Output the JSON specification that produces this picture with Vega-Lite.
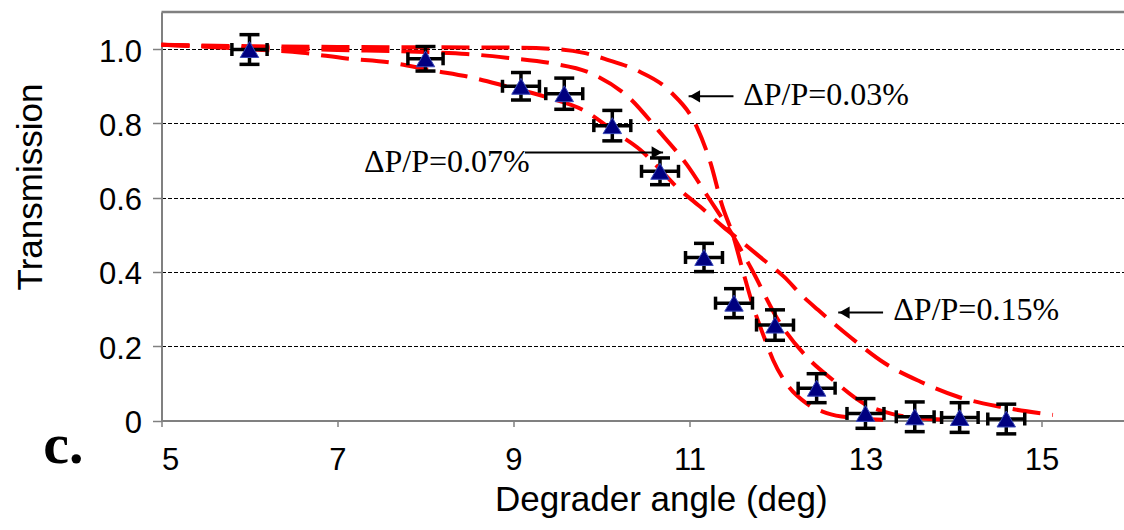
{
  "$schema": "https://vega.github.io/schema/vega-lite/v6.json",
  "width": 964,
  "height": 408.5,
  "autosize": {"type": "none"},
  "padding": {"left": 161.5, "top": 12, "right": 0, "bottom": 109.5},
  "background": "white",
  "config": {
    "view": {"stroke": null},
    "axis": {
      "domainColor": "#808080",
      "domainWidth": 2,
      "tickColor": "#808080",
      "tickWidth": 1.5,
      "labelFont": "Liberation Sans",
      "labelFontSize": 31,
      "labelColor": "#000000",
      "titleFont": "Liberation Sans",
      "titleFontSize": 35,
      "titleFontWeight": "normal",
      "titleColor": "#000000"
    }
  },
  "datasets": {
    "curves": [
      {"c": "0.03", "x": 5.0, "T": 1.012},
      {"c": "0.03", "x": 6.0, "T": 1.008},
      {"c": "0.03", "x": 7.0, "T": 1.006},
      {"c": "0.03", "x": 8.0, "T": 1.005},
      {"c": "0.03", "x": 9.0, "T": 1.004},
      {"c": "0.03", "x": 9.5, "T": 1.0},
      {"c": "0.03", "x": 9.8, "T": 0.99},
      {"c": "0.03", "x": 10.06, "T": 0.972},
      {"c": "0.03", "x": 10.4, "T": 0.943},
      {"c": "0.03", "x": 10.78, "T": 0.886},
      {"c": "0.03", "x": 11.08, "T": 0.792},
      {"c": "0.03", "x": 11.24, "T": 0.693},
      {"c": "0.03", "x": 11.37, "T": 0.58},
      {"c": "0.03", "x": 11.5, "T": 0.495},
      {"c": "0.03", "x": 11.61, "T": 0.4},
      {"c": "0.03", "x": 11.74, "T": 0.295},
      {"c": "0.03", "x": 11.86, "T": 0.217},
      {"c": "0.03", "x": 11.95, "T": 0.163},
      {"c": "0.03", "x": 12.1, "T": 0.1},
      {"c": "0.03", "x": 12.33, "T": 0.046},
      {"c": "0.03", "x": 12.56, "T": 0.02},
      {"c": "0.03", "x": 12.9, "T": 0.006},
      {"c": "0.03", "x": 13.2, "T": 0.002},
      {"c": "0.07", "x": 5.0, "T": 1.012},
      {"c": "0.07", "x": 6.0, "T": 1.004},
      {"c": "0.07", "x": 7.0, "T": 0.998},
      {"c": "0.07", "x": 8.0, "T": 0.992},
      {"c": "0.07", "x": 8.47, "T": 0.987},
      {"c": "0.07", "x": 8.92, "T": 0.977},
      {"c": "0.07", "x": 9.43, "T": 0.962},
      {"c": "0.07", "x": 9.89, "T": 0.934},
      {"c": "0.07", "x": 10.32, "T": 0.868},
      {"c": "0.07", "x": 10.65, "T": 0.78},
      {"c": "0.07", "x": 10.97, "T": 0.689},
      {"c": "0.07", "x": 11.23, "T": 0.595},
      {"c": "0.07", "x": 11.45, "T": 0.515},
      {"c": "0.07", "x": 11.7, "T": 0.41},
      {"c": "0.07", "x": 12.03, "T": 0.262},
      {"c": "0.07", "x": 12.33, "T": 0.172},
      {"c": "0.07", "x": 12.63, "T": 0.109},
      {"c": "0.07", "x": 12.98, "T": 0.046},
      {"c": "0.07", "x": 13.3, "T": 0.018},
      {"c": "0.07", "x": 13.6, "T": 0.007},
      {"c": "0.07", "x": 14.0, "T": 0.002},
      {"c": "0.15", "x": 5.0, "T": 1.012},
      {"c": "0.15", "x": 6.0, "T": 1.0},
      {"c": "0.15", "x": 6.6, "T": 0.99},
      {"c": "0.15", "x": 7.1, "T": 0.975},
      {"c": "0.15", "x": 7.6, "T": 0.964},
      {"c": "0.15", "x": 8.07, "T": 0.943},
      {"c": "0.15", "x": 8.5, "T": 0.925},
      {"c": "0.15", "x": 8.92, "T": 0.9},
      {"c": "0.15", "x": 9.37, "T": 0.871},
      {"c": "0.15", "x": 9.8, "T": 0.835},
      {"c": "0.15", "x": 10.17, "T": 0.774},
      {"c": "0.15", "x": 10.44, "T": 0.729},
      {"c": "0.15", "x": 10.67, "T": 0.675},
      {"c": "0.15", "x": 10.85, "T": 0.63},
      {"c": "0.15", "x": 11.12, "T": 0.576},
      {"c": "0.15", "x": 11.38, "T": 0.522},
      {"c": "0.15", "x": 11.61, "T": 0.478},
      {"c": "0.15", "x": 11.84, "T": 0.433},
      {"c": "0.15", "x": 12.07, "T": 0.388},
      {"c": "0.15", "x": 12.29, "T": 0.334},
      {"c": "0.15", "x": 12.46, "T": 0.298},
      {"c": "0.15", "x": 12.84, "T": 0.222},
      {"c": "0.15", "x": 13.22, "T": 0.154},
      {"c": "0.15", "x": 13.62, "T": 0.105},
      {"c": "0.15", "x": 14.05, "T": 0.064},
      {"c": "0.15", "x": 14.53, "T": 0.037},
      {"c": "0.15", "x": 15.13, "T": 0.015}
    ],
    "points": [
      {"x": 6.0, "T": 0.999, "xlo": 5.8, "xhi": 6.2, "ylo": 0.959, "yhi": 1.039},
      {"x": 8.0, "T": 0.974, "xlo": 7.8, "xhi": 8.2, "ylo": 0.941, "yhi": 1.007},
      {"x": 9.085, "T": 0.9, "xlo": 8.875, "xhi": 9.295, "ylo": 0.863, "yhi": 0.937},
      {"x": 9.577, "T": 0.88, "xlo": 9.367, "xhi": 9.787, "ylo": 0.838, "yhi": 0.922},
      {"x": 10.123, "T": 0.794, "xlo": 9.913, "xhi": 10.333, "ylo": 0.753, "yhi": 0.835},
      {"x": 10.665, "T": 0.671, "xlo": 10.455, "xhi": 10.875, "ylo": 0.635, "yhi": 0.707},
      {"x": 11.165, "T": 0.439, "xlo": 10.955, "xhi": 11.375, "ylo": 0.401, "yhi": 0.477},
      {"x": 11.506, "T": 0.316, "xlo": 11.296, "xhi": 11.716, "ylo": 0.277, "yhi": 0.355},
      {"x": 11.972, "T": 0.257, "xlo": 11.762, "xhi": 12.182, "ylo": 0.216, "yhi": 0.298},
      {"x": 12.445, "T": 0.087, "xlo": 12.235, "xhi": 12.655, "ylo": 0.048, "yhi": 0.126},
      {"x": 13.0, "T": 0.019, "xlo": 12.79, "xhi": 13.21, "ylo": -0.021, "yhi": 0.059},
      {"x": 13.56, "T": 0.01, "xlo": 13.35, "xhi": 13.78, "ylo": -0.03, "yhi": 0.05},
      {"x": 14.07, "T": 0.008, "xlo": 13.865, "xhi": 14.28, "ylo": -0.032, "yhi": 0.048},
      {"x": 14.6, "T": 0.004, "xlo": 14.39, "xhi": 14.81, "ylo": -0.036, "yhi": 0.044}
    ],
    "notes": [
      {"label": "ΔP/P=0.03%", "tx": 11.61, "ty": 0.8495, "ax": 10.99, "ax2": 11.5, "ay": 0.873, "hx": 11.06, "dir": "left"},
      {"label": "ΔP/P=0.07%", "tx": 7.3, "ty": 0.67, "ax": 9.13, "ax2": 10.7, "ay": 0.722, "hx": 10.63, "dir": "right"},
      {"label": "ΔP/P=0.15%", "tx": 13.316, "ty": 0.2706, "ax": 12.69, "ax2": 13.2, "ay": 0.2906, "hx": 12.76, "dir": "left"}
    ]
  },
  "layer": [
    {
      "data": {"name": "curves"},
      "mark": {"type": "line", "color": "#ff0000", "strokeWidth": 4, "strokeDash": [28, 12], "interpolate": "monotone", "strokeCap": "butt"},
      "encoding": {
        "x": {
          "field": "x", "type": "quantitative", "title": "Degrader angle (deg)",
          "scale": {"domain": [5, 15.955], "nice": false, "zero": false},
          "axis": {
            "values": [5, 7, 9, 11, 13, 15], "format": "d",
            "tickSize": 6, "labelPadding": 19, "grid": false,
            "titleX": 499.3, "titleY": 89.5, "titleBaseline": "alphabetic", "titleAlign": "center"
          }
        },
        "y": {
          "field": "T", "type": "quantitative", "title": "Transmission",
          "scale": {"domain": [0, 1.1], "nice": false},
          "axis": {
            "values": [0, 0.2, 0.4, 0.6, 0.8, 1.0],
            "labelExpr": "datum.value === 0 ? '0' : format(datum.value, '.1f')",
            "tickSize": 9, "labelPadding": 11, "labelOffset": 3,
            "grid": true, "gridColor": "#000000", "gridDash": [4, 2], "gridWidth": 1,
            "titleX": -119.8, "titleY": 174.5, "titleAngle": -90, "titleAlign": "center", "titleBaseline": "alphabetic"
          }
        },
        "detail": {"field": "c", "type": "nominal"}
      }
    },
    {
      "data": {"values": [{"top": 1.1}]},
      "mark": {"type": "rule", "color": "#808080", "strokeWidth": 2.5},
      "encoding": {"y": {"field": "top", "type": "quantitative", "title": "Transmission"}}
    },
    {
      "data": {"name": "points"},
      "mark": {"type": "rule", "color": "#000000", "strokeWidth": 3.5},
      "encoding": {
        "x": {"field": "x", "type": "quantitative", "title": "Degrader angle (deg)"},
        "y": {"field": "ylo", "type": "quantitative", "title": "Transmission"},
        "y2": {"field": "yhi"}
      }
    },
    {
      "data": {"name": "points"},
      "mark": {"type": "rule", "color": "#000000", "strokeWidth": 3.5},
      "encoding": {
        "x": {"field": "xlo", "type": "quantitative", "title": "Degrader angle (deg)"},
        "x2": {"field": "xhi"},
        "y": {"field": "T", "type": "quantitative", "title": "Transmission"}
      }
    },
    {
      "data": {"name": "points"},
      "mark": {"type": "tick", "orient": "horizontal", "color": "#000000", "thickness": 3.5, "size": 20, "opacity": 1},
      "encoding": {
        "x": {"field": "x", "type": "quantitative", "title": "Degrader angle (deg)"},
        "y": {"field": "ylo", "type": "quantitative", "title": "Transmission"}
      }
    },
    {
      "data": {"name": "points"},
      "mark": {"type": "tick", "orient": "horizontal", "color": "#000000", "thickness": 3.5, "size": 20, "opacity": 1},
      "encoding": {
        "x": {"field": "x", "type": "quantitative", "title": "Degrader angle (deg)"},
        "y": {"field": "yhi", "type": "quantitative", "title": "Transmission"}
      }
    },
    {
      "data": {"name": "points"},
      "mark": {"type": "tick", "orient": "vertical", "color": "#000000", "thickness": 3.5, "size": 13, "opacity": 1},
      "encoding": {
        "x": {"field": "xlo", "type": "quantitative", "title": "Degrader angle (deg)"},
        "y": {"field": "T", "type": "quantitative", "title": "Transmission"}
      }
    },
    {
      "data": {"name": "points"},
      "mark": {"type": "tick", "orient": "vertical", "color": "#000000", "thickness": 3.5, "size": 13, "opacity": 1},
      "encoding": {
        "x": {"field": "xhi", "type": "quantitative", "title": "Degrader angle (deg)"},
        "y": {"field": "T", "type": "quantitative", "title": "Transmission"}
      }
    },
    {
      "data": {"name": "points"},
      "mark": {"type": "point", "shape": "triangle-up", "filled": true, "fill": "#000080", "stroke": "#3a4ab8", "strokeWidth": 1, "size": 340, "opacity": 1},
      "encoding": {
        "x": {"field": "x", "type": "quantitative", "title": "Degrader angle (deg)"},
        "y": {"field": "T", "type": "quantitative", "title": "Transmission"}
      }
    },
    {
      "data": {"name": "notes"},
      "mark": {"type": "rule", "color": "#000000", "strokeWidth": 2},
      "encoding": {
        "x": {"field": "ax", "type": "quantitative", "title": "Degrader angle (deg)"},
        "x2": {"field": "ax2"},
        "y": {"field": "ay", "type": "quantitative", "title": "Transmission"}
      }
    },
    {
      "data": {"name": "notes"},
      "mark": {"type": "point", "filled": true, "color": "#000000", "size": 150, "opacity": 1, "strokeWidth": 0},
      "encoding": {
        "x": {"field": "hx", "type": "quantitative", "title": "Degrader angle (deg)"},
        "y": {"field": "ay", "type": "quantitative", "title": "Transmission"},
        "shape": {"field": "dir", "type": "nominal", "scale": {"domain": ["left", "right"], "range": ["triangle-left", "triangle-right"]}, "legend": null}
      }
    },
    {
      "data": {"name": "notes"},
      "mark": {"type": "text", "font": "Liberation Serif", "fontSize": 32, "align": "left", "baseline": "alphabetic", "color": "#000000"},
      "encoding": {
        "x": {"field": "tx", "type": "quantitative", "title": "Degrader angle (deg)"},
        "y": {"field": "ty", "type": "quantitative", "title": "Transmission"},
        "text": {"field": "label", "type": "nominal"}
      }
    },
    {
      "data": {"values": [{"lx": 3.657, "ly": -0.1152, "t": "c."}]},
      "mark": {"type": "text", "font": "Liberation Serif", "fontSize": 58, "fontWeight": "bold", "align": "left", "baseline": "alphabetic", "color": "#000000"},
      "encoding": {
        "x": {"field": "lx", "type": "quantitative", "title": "Degrader angle (deg)"},
        "y": {"field": "ly", "type": "quantitative", "title": "Transmission"},
        "text": {"field": "t", "type": "nominal"}
      }
    }
  ]
}
